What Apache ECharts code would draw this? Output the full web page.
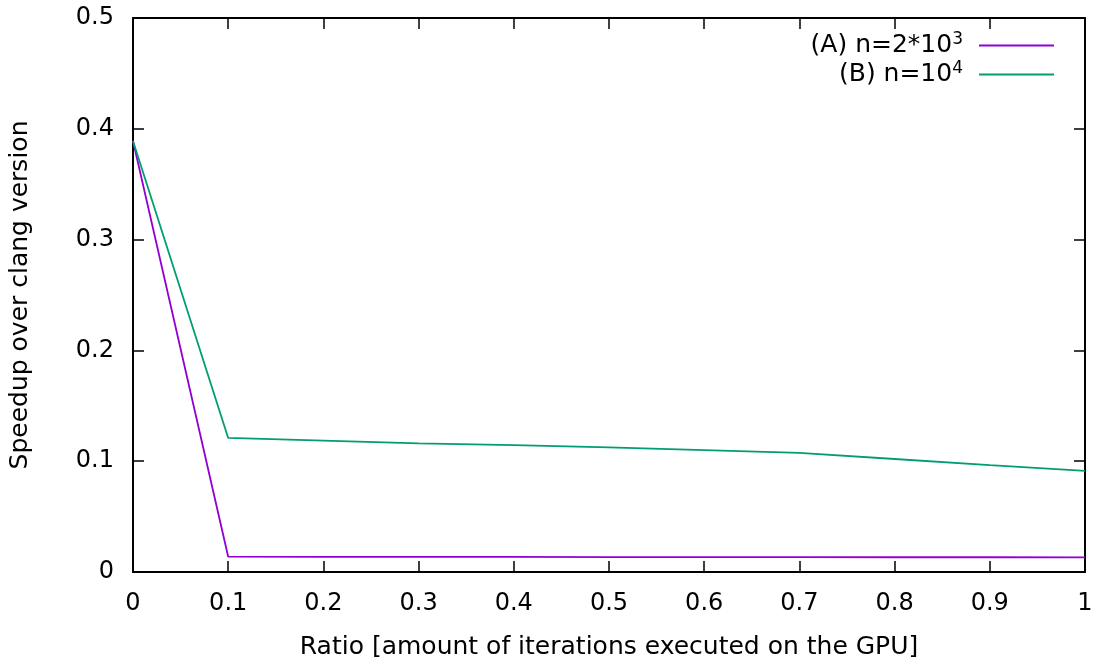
<!DOCTYPE html>
<html lang="en">
<head>
    <meta charset="utf-8">
    <title>Speedup over clang</title>
    <script src="https://cdn.jsdelivr.net/npm/echarts@6/dist/echarts.min.js"></script>
    <style>
        html, body { margin: 0; padding: 0; background: #fff; }
    </style>
</head>
<body>
<div id="main" style="width:1100px;height:665px;"></div>
<script type="text/javascript">
    // ratio of iterations executed on the GPU
    var ratios = [0, 0.1, 0.2, 0.3, 0.4, 0.5, 0.6, 0.7, 0.8, 0.9, 1];
    // (A) n=2*10^3
    var speedupA = [0.389, 0.0138, 0.0137, 0.0136, 0.0136, 0.0135, 0.0134, 0.0134, 0.0133, 0.0133, 0.0132];
    // (B) n=10^4
    var speedupB = [0.389, 0.121, 0.1185, 0.116, 0.1145, 0.1125, 0.110, 0.1075, 0.102, 0.0965, 0.0913];
    var nameA = '(A) n=2*10{sup|3}';
    var nameB = '(B) n=10{sup|4}';

    function pairs(xs, ys) {
        return xs.map(function (x, i) { return [x, ys[i]]; });
    }

    var font = 'DejaVu Sans';
    var black = '#000';
    // gnuplot style border: ticks inside on all four sides
    function tick() { return {show: true, inside: true, length: 11, lineStyle: {color: black, width: 1.5}}; }
    function axLine() { return {show: true, onZero: false, lineStyle: {color: black, width: 2}}; }

    var chart = echarts.init(document.getElementById('main'));
    chart.setOption({
        animation: false,
        backgroundColor: '#fff',
        grid: {left: 132, right: 15, top: 18, bottom: 92},
        legend: {
            right: 41,
            top: 26,
            orient: 'vertical',
            align: 'right',
            itemWidth: 75,
            itemHeight: 2,
            itemGap: 0,
            icon: 'rect',
            data: [nameA, nameB],
            textStyle: {
                fontFamily: font, fontSize: 25, color: black, lineHeight: 29,
                padding: [0, 11, 0, 0],
                rich: {sup: {fontSize: 17, fontFamily: font, color: black, verticalAlign: 'top', lineHeight: 18}}
            }
        },
        xAxis: [{
            type: 'value', min: 0, max: 1, interval: 0.1,
            name: 'Ratio [amount of iterations executed on the GPU]',
            nameLocation: 'middle', nameGap: 63,
            nameTextStyle: {fontSize: 25, color: black, fontFamily: font},
            axisLabel: {fontSize: 24, color: black, margin: 20, fontFamily: font},
            axisLine: axLine(), axisTick: tick(), splitLine: {show: false}
        }, {
            type: 'value', min: 0, max: 1, interval: 0.1, position: 'top',
            axisLabel: {show: false},
            axisLine: axLine(), axisTick: tick(), splitLine: {show: false}
        }],
        yAxis: [{
            type: 'value', min: 0, max: 0.5, interval: 0.1,
            name: 'Speedup over clang version',
            nameLocation: 'middle', nameGap: 100,
            nameTextStyle: {fontSize: 25, color: black, fontFamily: font},
            axisLabel: {fontSize: 24, color: black, margin: 19, fontFamily: font},
            axisLine: axLine(), axisTick: tick(), splitLine: {show: false}
        }, {
            type: 'value', min: 0, max: 0.5, interval: 0.1, position: 'right',
            axisLabel: {show: false},
            axisLine: axLine(), axisTick: tick(), splitLine: {show: false}
        }],
        series: [{
            name: nameA,
            type: 'line',
            data: pairs(ratios, speedupA),
            showSymbol: false,
            color: '#9400d3',
            lineStyle: {width: 1.8, color: '#9400d3'}
        }, {
            name: nameB,
            type: 'line',
            data: pairs(ratios, speedupB),
            showSymbol: false,
            color: '#009e73',
            lineStyle: {width: 1.8, color: '#009e73'}
        }]
    });
</script>
</body>
</html>
